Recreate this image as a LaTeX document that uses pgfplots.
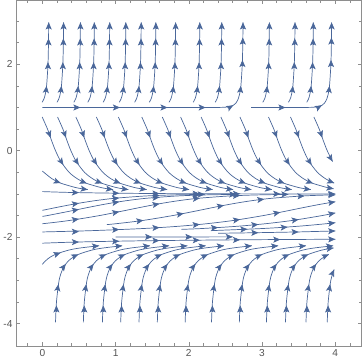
\documentclass[border=0pt]{standalone}
\usepackage{fontspec}
\setmainfont{Liberation Sans}
\usepackage{pgfplots}
\pgfplotsset{compat=1.18}
\usetikzlibrary{arrows.meta}
\definecolor{sc}{HTML}{4A679A}
\definecolor{fr}{HTML}{8E8E8E}
\definecolor{lb}{HTML}{555555}
\pgfplotsset{sl/.style={sc, line width=0.7pt, smooth}}
\begin{document}
\begin{tikzpicture}
\begin{axis}[
 scale only axis, width=341pt, height=341pt,
 xmin=-0.36, xmax=4.36, ymin=-4.52, ymax=3.48,
 xtick={0,1,2,3,4}, ytick={-4,-2,0,2},
 minor xtick={-0.2,0.2,0.4,0.6,0.8,1.2,1.4,1.6,1.8,2.2,2.4,2.6,2.8,3.2,3.4,3.6,3.8,4.2},
 minor ytick={-3.5,-3,-2.5,-1.5,-1,-0.5,0.5,1,1.5,2.5,3},
 tick align=inside, major tick length=4pt, minor tick length=2.5pt,
 axis line style={fr, line width=0.7pt},
 tick style={fr, line width=0.6pt},
 /pgf/number format/assume math mode=true,
 tick label style={font=\fontsize{10}{12}\selectfont, text=lb},
]
% ---------- upper region ----------
\addplot[sl] coordinates {(-0.003,1.12)(0.022,1.2)(0.039,1.3)(0.058,1.5)(0.077,2)(0.084,2.5)(0.087,2.97)};
\addplot[sl] coordinates {(0.200,1.12)(0.225,1.2)(0.242,1.3)(0.261,1.5)(0.280,2)(0.287,2.5)(0.290,2.97)};
\addplot[sl] coordinates {(0.430,1.12)(0.455,1.2)(0.472,1.3)(0.491,1.5)(0.510,2)(0.517,2.5)(0.520,2.97)};
\addplot[sl] coordinates {(0.620,1.12)(0.645,1.2)(0.662,1.3)(0.681,1.5)(0.700,2)(0.707,2.5)(0.710,2.97)};
\addplot[sl] coordinates {(0.830,1.12)(0.855,1.2)(0.872,1.3)(0.891,1.5)(0.910,2)(0.917,2.5)(0.920,2.97)};
\addplot[sl] coordinates {(1.050,1.12)(1.075,1.2)(1.092,1.3)(1.111,1.5)(1.130,2)(1.137,2.5)(1.140,2.97)};
\addplot[sl] coordinates {(1.260,1.12)(1.285,1.2)(1.302,1.3)(1.321,1.5)(1.340,2)(1.347,2.5)(1.350,2.97)};
\addplot[sl] coordinates {(1.460,1.12)(1.485,1.2)(1.502,1.3)(1.521,1.5)(1.540,2)(1.547,2.5)(1.550,2.97)};
\addplot[sl] coordinates {(1.730,1.12)(1.755,1.2)(1.772,1.3)(1.791,1.5)(1.810,2)(1.817,2.5)(1.820,2.97)};
\addplot[sl] coordinates {(2.060,1.12)(2.085,1.2)(2.102,1.3)(2.121,1.5)(2.140,2)(2.147,2.5)(2.150,2.97)};
\addplot[sl] coordinates {(2.360,1.12)(2.385,1.2)(2.402,1.3)(2.421,1.5)(2.440,2)(2.447,2.5)(2.450,2.97)};
\addplot[sl] coordinates {(3.010,1.12)(3.035,1.2)(3.052,1.3)(3.071,1.5)(3.090,2)(3.097,2.5)(3.100,2.97)};
\addplot[sl] coordinates {(3.360,1.12)(3.385,1.2)(3.402,1.3)(3.421,1.5)(3.440,2)(3.447,2.5)(3.450,2.97)};
\addplot[sl] coordinates {(3.610,1.12)(3.635,1.2)(3.652,1.3)(3.671,1.5)(3.690,2)(3.697,2.5)(3.700,2.97)};
\addplot[sl] coordinates {(0,1)(1.2,1)(2.2,1)(2.34,1.001)(2.482,1.005)(2.558,1.02)(2.607,1.05)(2.642,1.1)(2.675,1.2)(2.692,1.3)(2.711,1.5)(2.730,2)(2.737,2.5)(2.740,2.97)};
\addplot[sl] coordinates {(2.85,1)(3.4,1)(3.55,1.001)(3.692,1.005)(3.768,1.02)(3.817,1.05)(3.852,1.1)(3.885,1.2)(3.902,1.3)(3.921,1.5)(3.940,2)(3.947,2.5)(3.950,2.97)};
% ---------- middle region ----------
\addplot[sl] coordinates {(-0.002,0.78)(0.071,0.5)(0.123,0.25)(0.18,0)(0.253,-0.25)(0.366,-0.5)(0.478,-0.65)(0.595,-0.75)(0.794,-0.85)(0.887,-0.88)(0.965,-0.9)};
\addplot[sl] coordinates {(0.208,0.78)(0.281,0.5)(0.333,0.25)(0.39,0)(0.463,-0.25)(0.576,-0.5)(0.688,-0.65)(0.805,-0.75)(1.004,-0.85)(1.097,-0.88)(1.175,-0.9)};
\addplot[sl] coordinates {(0.458,0.78)(0.531,0.5)(0.583,0.25)(0.64,0)(0.713,-0.25)(0.826,-0.5)(0.938,-0.65)(1.055,-0.75)(1.254,-0.85)(1.347,-0.88)(1.425,-0.9)};
\addplot[sl] coordinates {(0.738,0.78)(0.811,0.5)(0.863,0.25)(0.92,0)(0.993,-0.25)(1.106,-0.5)(1.218,-0.65)(1.335,-0.75)(1.534,-0.85)(1.627,-0.88)(1.705,-0.9)};
\addplot[sl] coordinates {(1.038,0.78)(1.111,0.5)(1.163,0.25)(1.22,0)(1.293,-0.25)(1.406,-0.5)(1.518,-0.65)(1.635,-0.75)(1.834,-0.85)(1.927,-0.88)(2.005,-0.9)};
\addplot[sl] coordinates {(1.358,0.78)(1.431,0.5)(1.483,0.25)(1.54,0)(1.613,-0.25)(1.726,-0.5)(1.838,-0.65)(1.955,-0.75)(2.154,-0.85)(2.247,-0.88)(2.325,-0.9)};
\addplot[sl] coordinates {(1.638,0.78)(1.711,0.5)(1.763,0.25)(1.82,0)(1.893,-0.25)(2.006,-0.5)(2.118,-0.65)(2.235,-0.75)(2.434,-0.85)(2.527,-0.88)(2.605,-0.9)};
\addplot[sl] coordinates {(1.888,0.78)(1.961,0.5)(2.013,0.25)(2.07,0)(2.143,-0.25)(2.256,-0.5)(2.368,-0.65)(2.485,-0.75)(2.684,-0.85)(2.777,-0.88)(2.855,-0.9)};
\addplot[sl] coordinates {(2.168,0.78)(2.241,0.5)(2.293,0.25)(2.35,0)(2.423,-0.25)(2.536,-0.5)(2.648,-0.65)(2.765,-0.75)(2.964,-0.85)(3.057,-0.88)(3.135,-0.9)};
\addplot[sl] coordinates {(2.438,0.78)(2.511,0.5)(2.563,0.25)(2.62,0)(2.693,-0.25)(2.806,-0.5)(2.918,-0.65)(3.035,-0.75)(3.234,-0.85)(3.327,-0.88)(3.405,-0.9)};
\addplot[sl] coordinates {(2.698,0.78)(2.771,0.5)(2.823,0.25)(2.88,0)(2.953,-0.25)(3.066,-0.5)(3.178,-0.65)(3.295,-0.75)(3.494,-0.85)(3.587,-0.88)(3.665,-0.9)};
\addplot[sl] coordinates {(3.088,0.78)(3.161,0.5)(3.213,0.25)(3.27,0)(3.343,-0.25)(3.456,-0.5)(3.568,-0.65)(3.685,-0.75)(3.884,-0.85)(3.977,-0.88)};
\addplot[sl] coordinates {(3.388,0.78)(3.461,0.5)(3.513,0.25)(3.57,0)(3.643,-0.25)(3.756,-0.5)(3.868,-0.65)(3.985,-0.75)};
\addplot[sl] coordinates {(3.708,0.78)(3.781,0.5)(3.833,0.25)(3.89,0)(3.963,-0.25)};
\addplot[sl] coordinates {(0,-0.47)(0.021,-0.5)(0.133,-0.65)(0.25,-0.75)(0.449,-0.85)(0.542,-0.88)(0.62,-0.9)};
% ---------- near y=-1 and between -2 and -1 ----------
\addplot[sl] coordinates {(0,-0.946)(0.25,-0.96)(0.5,-0.97)(1,-0.983)(1.5,-0.99)(2,-0.996)(3,-0.999)(4,-1.0)};
\addplot[sl] coordinates {(0,-1.38)(0.086,-1.35)(0.232,-1.3)(0.384,-1.25)(0.551,-1.2)(0.745,-1.15)(0.993,-1.1)(1.382,-1.05)(1.654,-1.03)(1.864,-1.02)(2.219,-1.01)};
\addplot[sl] coordinates {(0,-1.52)(0.071,-1.5)(0.372,-1.4)(0.516,-1.35)(0.662,-1.3)(0.814,-1.25)(0.981,-1.2)(1.175,-1.15)(1.423,-1.1)(1.812,-1.05)(2.084,-1.03)(2.294,-1.02)(2.649,-1.01)};
\addplot[sl] coordinates {(0,-1.69)(0.21,-1.65)(0.428,-1.6)(0.783,-1.5)(1.084,-1.4)(1.228,-1.35)(1.374,-1.3)(1.526,-1.25)(1.693,-1.2)(1.887,-1.15)(2.135,-1.1)(2.524,-1.05)(2.796,-1.03)(3.006,-1.02)(3.36,-1.01)};
\addplot[sl] coordinates {(0,-1.88)(0.671,-1.85)(1.384,-1.8)(1.848,-1.75)(2.184,-1.7)(2.447,-1.65)(2.665,-1.6)(3.02,-1.5)(3.321,-1.4)(3.465,-1.35)(3.611,-1.3)(3.763,-1.25)(3.93,-1.2)(4.0,-1.182)};
\addplot[sl] coordinates {(0.88,-1.71)(0.947,-1.7)(1.21,-1.65)(1.428,-1.6)(1.783,-1.5)(2.084,-1.4)(2.228,-1.35)(2.374,-1.3)(2.526,-1.25)(2.693,-1.2)(2.887,-1.15)(3.135,-1.1)(3.524,-1.05)(3.796,-1.03)(4.0,-1.022)};
\addplot[sl] coordinates {(1.9,-1.82)(2.187,-1.8)(2.651,-1.75)(2.987,-1.7)(3.25,-1.65)(3.468,-1.6)(3.823,-1.5)(4.0,-1.44)};
\addplot[sl] coordinates {(2.3,-1.85)(3.013,-1.8)(3.477,-1.75)(3.813,-1.7)(4.0,-1.667)};
\addplot[sl] coordinates {(2.4,-1.91)(2.835,-1.9)(3.483,-1.88)(3.71,-1.87)(4.0,-1.857)};
\addplot[sl] coordinates {(1.0,-1.995)(1.8,-1.995)(2.6,-1.994)};
% ---------- below -2 ----------
\addplot[sl] coordinates {(0,-2.14)(0.337,-2.12)(0.82,-2.1)(1.563,-2.08)(2.833,-2.06)(3.868,-2.05)(4.0,-2.049)};
\addplot[sl] coordinates {(0,-2.63)(0.015,-2.6)(0.076,-2.5)(0.176,-2.4)(0.361,-2.3)(0.521,-2.25)(0.775,-2.2)};
\addplot[sl] coordinates {(0.18,-3.97)(0.193,-3.5)(0.229,-3)(0.275,-2.75)(0.33,-2.6)(0.391,-2.5)(0.491,-2.4)(0.676,-2.3)(0.836,-2.25)(1.09,-2.2)};
\addplot[sl] coordinates {(0.56,-3.97)(0.573,-3.5)(0.609,-3)(0.655,-2.75)(0.71,-2.6)(0.771,-2.5)(0.871,-2.4)(1.056,-2.3)(1.216,-2.25)(1.47,-2.2)};
\addplot[sl] coordinates {(0.82,-3.97)(0.833,-3.5)(0.869,-3)(0.915,-2.75)(0.97,-2.6)(1.031,-2.5)(1.131,-2.4)(1.316,-2.3)(1.476,-2.25)(1.73,-2.2)};
\addplot[sl] coordinates {(1.07,-3.97)(1.083,-3.5)(1.119,-3)(1.165,-2.75)(1.22,-2.6)(1.281,-2.5)(1.381,-2.4)(1.566,-2.3)(1.726,-2.25)(1.98,-2.2)};
\addplot[sl] coordinates {(1.32,-3.97)(1.333,-3.5)(1.369,-3)(1.415,-2.75)(1.47,-2.6)(1.531,-2.5)(1.631,-2.4)(1.816,-2.3)(1.976,-2.25)(2.23,-2.2)};
\addplot[sl] coordinates {(1.57,-3.97)(1.583,-3.5)(1.619,-3)(1.665,-2.75)(1.72,-2.6)(1.781,-2.5)(1.881,-2.4)(2.066,-2.3)(2.226,-2.25)(2.48,-2.2)};
\addplot[sl] coordinates {(1.95,-3.97)(1.963,-3.5)(1.999,-3)(2.045,-2.75)(2.1,-2.6)(2.161,-2.5)(2.261,-2.4)(2.446,-2.3)(2.606,-2.25)(2.86,-2.2)};
\addplot[sl] coordinates {(2.31,-3.97)(2.323,-3.5)(2.359,-3)(2.405,-2.75)(2.46,-2.6)(2.521,-2.5)(2.621,-2.4)(2.806,-2.3)(2.966,-2.25)(3.22,-2.2)};
\addplot[sl] coordinates {(2.69,-3.97)(2.703,-3.5)(2.739,-3)(2.785,-2.75)(2.84,-2.6)(2.901,-2.5)(3.001,-2.4)(3.186,-2.3)(3.346,-2.25)(3.6,-2.2)};
\addplot[sl] coordinates {(3.06,-3.97)(3.073,-3.5)(3.109,-3)(3.155,-2.75)(3.21,-2.6)(3.271,-2.5)(3.371,-2.4)(3.556,-2.3)(3.716,-2.25)(3.97,-2.2)};
\addplot[sl] coordinates {(3.32,-3.97)(3.333,-3.5)(3.369,-3)(3.415,-2.75)(3.47,-2.6)(3.531,-2.5)(3.631,-2.4)(3.816,-2.3)(3.976,-2.25)};
\addplot[sl] coordinates {(3.60,-3.97)(3.613,-3.5)(3.649,-3)(3.695,-2.75)(3.75,-2.6)(3.811,-2.5)(3.911,-2.4)};
\addplot[sl] coordinates {(3.89,-3.97)(3.903,-3.5)(3.939,-3)(3.985,-2.75)};
% ---------- arrowheads: tip position and backward direction ----------
\addplot[sc, line width=0.7pt, quiver={u=\thisrow{u},v=\thisrow{v}}, {Stealth[length=7pt,width=6pt,inset=1.6pt]}-]
 table[row sep=\\] {
x y u v\\
0.058 1.5 -0.009 -0.14\\ 0.077 2.05 0 -0.14\\ 0.084 2.6 0 -0.14\\ 0.087 2.97 0 -0.14\\
0.261 1.5 -0.009 -0.14\\ 0.280 2.05 0 -0.14\\ 0.287 2.6 0 -0.14\\ 0.290 2.97 0 -0.14\\
0.491 1.5 -0.009 -0.14\\ 0.510 2.05 0 -0.14\\ 0.517 2.6 0 -0.14\\ 0.520 2.97 0 -0.14\\
0.681 1.5 -0.009 -0.14\\ 0.700 2.05 0 -0.14\\ 0.707 2.6 0 -0.14\\ 0.710 2.97 0 -0.14\\
0.891 1.5 -0.009 -0.14\\ 0.910 2.05 0 -0.14\\ 0.917 2.6 0 -0.14\\ 0.920 2.97 0 -0.14\\
1.111 1.5 -0.009 -0.14\\ 1.130 2.05 0 -0.14\\ 1.137 2.6 0 -0.14\\ 1.140 2.97 0 -0.14\\
1.321 1.5 -0.009 -0.14\\ 1.340 2.05 0 -0.14\\ 1.347 2.6 0 -0.14\\ 1.350 2.97 0 -0.14\\
1.521 1.5 -0.009 -0.14\\ 1.540 2.05 0 -0.14\\ 1.547 2.6 0 -0.14\\ 1.550 2.97 0 -0.14\\
1.791 1.5 -0.009 -0.14\\ 1.810 2.05 0 -0.14\\ 1.817 2.6 0 -0.14\\ 1.820 2.97 0 -0.14\\
2.121 1.5 -0.009 -0.14\\ 2.140 2.05 0 -0.14\\ 2.147 2.6 0 -0.14\\ 2.150 2.97 0 -0.14\\
2.421 1.5 -0.009 -0.14\\ 2.440 2.05 0 -0.14\\ 2.447 2.6 0 -0.14\\ 2.450 2.97 0 -0.14\\
3.071 1.5 -0.009 -0.14\\ 3.090 2.05 0 -0.14\\ 3.097 2.6 0 -0.14\\ 3.100 2.97 0 -0.14\\
3.421 1.5 -0.009 -0.14\\ 3.440 2.05 0 -0.14\\ 3.447 2.6 0 -0.14\\ 3.450 2.97 0 -0.14\\
3.671 1.5 -0.009 -0.14\\ 3.690 2.05 0 -0.14\\ 3.697 2.6 0 -0.14\\ 3.700 2.97 0 -0.14\\
0.52 1 -0.083 0\\ 1.06 1 -0.083 0\\ 1.71 1 -0.083 0\\ 2.23 1 -0.083 0\\ 2.607 1.05 -0.0724 -0.069\\
2.711 1.5 -0.009 -0.14\\ 2.732 2.1 0 -0.14\\ 2.737 2.62 0 -0.14\\ 2.740 2.97 0 -0.14\\
3.32 1 -0.083 0\\ 3.817 1.05 -0.0724 -0.069\\ 3.921 1.5 -0.009 -0.14\\ 3.942 2.1 0 -0.14\\ 3.947 2.62 0 -0.14\\ 3.950 2.97 0 -0.14\\
0.113 0.30 -0.0275 0.1325\\ 0.288 -0.328 -0.0467 0.116\\ 0.607 -0.756 -0.0773 0.0512\\ 0.965 -0.9 -0.0822 0.019\\
0.323 0.30 -0.0275 0.1325\\ 0.498 -0.328 -0.0467 0.116\\ 0.817 -0.756 -0.0773 0.0512\\ 1.175 -0.9 -0.0822 0.019\\
0.573 0.30 -0.0275 0.1325\\ 0.748 -0.328 -0.0467 0.116\\ 1.067 -0.756 -0.0773 0.0512\\ 1.425 -0.9 -0.0822 0.019\\
0.853 0.30 -0.0275 0.1325\\ 1.028 -0.328 -0.0467 0.116\\ 1.347 -0.756 -0.0773 0.0512\\ 1.705 -0.9 -0.0822 0.019\\
1.153 0.30 -0.0275 0.1325\\ 1.328 -0.328 -0.0467 0.116\\ 1.647 -0.756 -0.0773 0.0512\\ 2.005 -0.9 -0.0822 0.019\\
1.473 0.30 -0.0275 0.1325\\ 1.648 -0.328 -0.0467 0.116\\ 1.967 -0.756 -0.0773 0.0512\\ 2.325 -0.9 -0.0822 0.019\\
1.753 0.30 -0.0275 0.1325\\ 1.928 -0.328 -0.0467 0.116\\ 2.247 -0.756 -0.0773 0.0512\\ 2.605 -0.9 -0.0822 0.019\\
2.003 0.30 -0.0275 0.1325\\ 2.178 -0.328 -0.0467 0.116\\ 2.497 -0.756 -0.0773 0.0512\\ 2.855 -0.9 -0.0822 0.019\\
2.283 0.30 -0.0275 0.1325\\ 2.458 -0.328 -0.0467 0.116\\ 2.777 -0.756 -0.0773 0.0512\\ 3.135 -0.9 -0.0822 0.019\\
2.553 0.30 -0.0275 0.1325\\ 2.728 -0.328 -0.0467 0.116\\ 3.047 -0.756 -0.0773 0.0512\\ 3.405 -0.9 -0.0822 0.019\\
2.813 0.30 -0.0275 0.1325\\ 2.988 -0.328 -0.0467 0.116\\ 3.307 -0.756 -0.0773 0.0512\\ 3.665 -0.9 -0.0822 0.019\\
3.203 0.30 -0.0275 0.1325\\ 3.378 -0.328 -0.0467 0.116\\ 3.697 -0.756 -0.0773 0.0512\\ 3.977 -0.88 -0.0820 0.023\\
3.503 0.30 -0.0275 0.1325\\ 3.678 -0.328 -0.0467 0.116\\ 3.985 -0.75 -0.0773 0.0512\\
3.823 0.30 -0.0275 0.1325\\ 3.963 -0.25 -0.042 0.121\\
0.25 -0.75 -0.0773 0.0512\\ 0.62 -0.9 -0.0822 0.019\\
0.5 -0.97 -0.083 0.0025\\ 1.05 -0.984 -0.083 0.001\\ 1.6 -0.991 -0.083 0\\ 2.15 -0.996 -0.083 0\\ 2.7 -0.998 -0.083 0\\ 3.25 -0.999 -0.083 0\\ 4.0 -1.0 -0.083 0\\
0.5 -1.215 -0.082 -0.022\\ 1.05 -1.093 -0.0826 -0.0149\\ 1.6 -1.034 -0.083 -0.005\\ 2.219 -1.01 -0.083 -0.0017\\
0.5 -1.356 -0.0813 -0.0285\\ 1.05 -1.182 -0.0818 -0.0237\\ 1.6 -1.077 -0.0827 -0.0116\\ 2.15 -1.027 -0.083 -0.004\\ 2.649 -1.01 -0.083 -0.0017\\
0.5 -1.58 -0.0821 -0.0213\\ 1.05 -1.411 -0.0813 -0.028\\ 1.6 -1.228 -0.0817 -0.0245\\ 2.15 -1.098 -0.0826 -0.014\\ 2.7 -1.037 -0.083 -0.0055\\ 3.36 -1.01 -0.083 -0.0017\\
0.5 -1.872 -0.083 -0.0029\\ 1.05 -1.823 -0.083 -0.0058\\ 1.6 -1.777 -0.0828 -0.0091\\ 2.15 -1.705 -0.0826 -0.0137\\ 2.7 -1.59 -0.0821 -0.0213\\ 3.25 -1.424 -0.0813 -0.028\\ 4.0 -1.182 -0.082 -0.0221\\
1.38 -1.611 -0.0822 -0.0197\\ 1.93 -1.451 -0.0815 -0.0269\\ 2.48 -1.265 -0.0815 -0.0261\\ 3.03 -1.121 -0.0824 -0.0165\\ 3.58 -1.046 -0.0828 -0.0083\\ 4.0 -1.022 -0.083 -0.0033\\
2.4 -1.777 -0.0828 -0.0091\\ 2.95 -1.706 -0.0826 -0.0136\\ 3.5 -1.591 -0.0821 -0.0213\\ 4.0 -1.44 -0.0814 -0.0277\\
2.8 -1.815 -0.0829 -0.0066\\ 3.35 -1.768 -0.0828 -0.0095\\ 4.0 -1.667 -0.0824 -0.0165\\
2.95 -1.898 -0.083 -0.002\\ 3.5 -1.88 -0.083 -0.0025\\ 4.0 -1.857 -0.083 -0.0042\\
1.5 -1.995 -0.083 0\\ 2.05 -1.995 -0.083 0\\ 2.6 -1.994 -0.083 0\\
0.5 -2.113 -0.083 -0.0025\\ 1.05 -2.094 -0.083 -0.0025\\ 1.6 -2.079 -0.083 -0.0025\\ 2.15 -2.07 -0.083 -0.0025\\ 2.7 -2.062 -0.083 -0.0025\\ 3.25 -2.056 -0.083 -0.0025\\ 4.0 -2.049 -0.083 -0.0025\\
0.25 -2.36 -0.0783 -0.0464\\ 0.775 -2.2 -0.0826 -0.0127\\
0.192 -3.58 0 -0.14\\ 0.22 -3.09 -0.014 -0.138\\ 0.32 -2.62 -0.05 -0.112\\ 0.491 -2.4 -0.076 -0.058\\ 1.09 -2.2 -0.0826 -0.0127\\
0.572 -3.58 0 -0.14\\ 0.60 -3.09 -0.014 -0.138\\ 0.70 -2.62 -0.05 -0.112\\ 0.871 -2.4 -0.076 -0.058\\ 1.47 -2.2 -0.0826 -0.0127\\
0.832 -3.58 0 -0.14\\ 0.86 -3.09 -0.014 -0.138\\ 0.96 -2.62 -0.05 -0.112\\ 1.131 -2.4 -0.076 -0.058\\ 1.73 -2.2 -0.0826 -0.0127\\
1.082 -3.58 0 -0.14\\ 1.11 -3.09 -0.014 -0.138\\ 1.21 -2.62 -0.05 -0.112\\ 1.381 -2.4 -0.076 -0.058\\ 1.98 -2.2 -0.0826 -0.0127\\
1.332 -3.58 0 -0.14\\ 1.36 -3.09 -0.014 -0.138\\ 1.46 -2.62 -0.05 -0.112\\ 1.631 -2.4 -0.076 -0.058\\ 2.23 -2.2 -0.0826 -0.0127\\
1.582 -3.58 0 -0.14\\ 1.61 -3.09 -0.014 -0.138\\ 1.71 -2.62 -0.05 -0.112\\ 1.881 -2.4 -0.076 -0.058\\ 2.48 -2.2 -0.0826 -0.0127\\
1.962 -3.58 0 -0.14\\ 1.99 -3.09 -0.014 -0.138\\ 2.09 -2.62 -0.05 -0.112\\ 2.261 -2.4 -0.076 -0.058\\ 2.86 -2.2 -0.0826 -0.0127\\
2.322 -3.58 0 -0.14\\ 2.35 -3.09 -0.014 -0.138\\ 2.45 -2.62 -0.05 -0.112\\ 2.621 -2.4 -0.076 -0.058\\ 3.22 -2.2 -0.0826 -0.0127\\
2.702 -3.58 0 -0.14\\ 2.73 -3.09 -0.014 -0.138\\ 2.83 -2.62 -0.05 -0.112\\ 3.001 -2.4 -0.076 -0.058\\ 3.6 -2.2 -0.0826 -0.0127\\
3.072 -3.58 0 -0.14\\ 3.10 -3.09 -0.014 -0.138\\ 3.20 -2.62 -0.05 -0.112\\ 3.371 -2.4 -0.076 -0.058\\ 3.97 -2.2 -0.0826 -0.0127\\
3.332 -3.58 0 -0.14\\ 3.36 -3.09 -0.014 -0.138\\ 3.46 -2.62 -0.05 -0.112\\ 3.631 -2.4 -0.076 -0.058\\ 3.976 -2.25 -0.0821 -0.0209\\
3.612 -3.58 0 -0.14\\ 3.64 -3.09 -0.014 -0.138\\ 3.74 -2.62 -0.05 -0.112\\ 3.911 -2.4 -0.076 -0.058\\
3.902 -3.58 0 -0.14\\ 3.93 -3.09 -0.014 -0.138\\ 3.985 -2.75 -0.035 -0.128\\
};
\end{axis}
\end{tikzpicture}
\end{document}
